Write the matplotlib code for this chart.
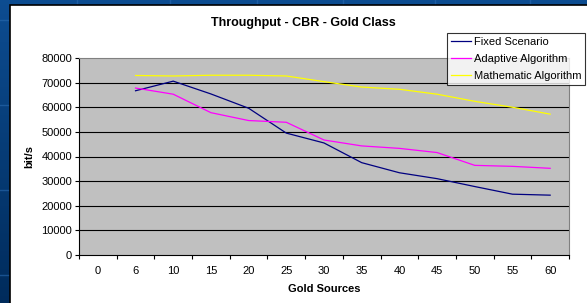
import numpy as np
import matplotlib.pyplot as plt
from matplotlib.patches import Rectangle

# Datos
categorias = ['0', '6', '10', '15', '20', '25', '30', '35', '40', '45', '50', '55', '60']
fixed = [np.nan, 66700, 70600, 65400, 59600, 49500, 45500, 37500, 33400, 31000, 27800, 24700, 24300]
adaptive = [np.nan, 67800, 65300, 57800, 54600, 53900, 46700, 44300, 43300, 41600, 36400, 36000, 35200]
mathematic = [np.nan, 72900, 72700, 73000, 73000, 72700, 70400, 68200, 67300, 65300, 62400, 60000, 57200]

plt.rcParams['font.family'] = ['Liberation Sans', 'DejaVu Sans']

fig = plt.figure(figsize=(5.87, 3.03), dpi=100)

# Fondo azul tipo diapositiva
bg = fig.add_axes([0, 0, 1, 1])
grad = np.linspace(0, 1, 256).reshape(-1, 1)
top = np.array([0.05, 0.30, 0.57])
bot = np.array([0.00, 0.17, 0.36])
img = top[None, None, :] * (1 - grad[:, :, None]) + bot[None, None, :] * grad[:, :, None]
bg.imshow(img, aspect='auto', extent=[0, 1, 0, 1], origin='upper')
for xv in [77, 170, 257, 343, 435, 530]:
    bg.axvline(xv / 587, color='#2a6ab0', lw=1, alpha=0.6)
for yv in [20, 105, 190, 275]:
    bg.axhline(1 - yv / 303, color='#2a6ab0', lw=1, alpha=0.6)
bg.set_xlim(0, 1)
bg.set_ylim(0, 1)
bg.axis('off')

# Área blanca del gráfico
bg.add_patch(Rectangle((10 / 587, -0.01), 1.0, (303 - 5) / 303 + 0.01,
                       facecolor='white', edgecolor='black', lw=1.2, zorder=3))

ax = fig.add_axes([79 / 587, 48 / 303, 490 / 587, 197 / 303])
ax.set_facecolor('#c0c0c0')
x = np.arange(len(categorias))

for yv in range(10000, 80000, 10000):
    ax.axhline(yv, color='black', lw=0.8, zorder=1)

ax.plot(x, fixed, color='#000080', lw=0.9, label='Fixed Scenario', zorder=3)
ax.plot(x, adaptive, color='#ff00ff', lw=0.9, label='Adaptive Algorithm', zorder=3)
ax.plot(x, mathematic, color='#ffff00', lw=0.9, label='Mathematic Algorithm', zorder=3)

ax.set_xlim(-0.5, len(categorias) - 0.5)
ax.set_ylim(0, 80000)
ax.set_yticks(range(0, 80001, 10000))
ax.tick_params(axis='y', labelsize=8, length=3, width=0.8, pad=2)

ax.set_xticks(np.arange(-0.5, len(categorias), 1.0))
ax.set_xticklabels([])
ax.set_xticks(x, minor=True)
ax.set_xticklabels(categorias, minor=True)
ax.tick_params(axis='x', which='major', length=3, width=0.8)
ax.tick_params(axis='x', which='minor', length=0, labelsize=8, pad=8)

for s in ['top', 'right']:
    ax.spines[s].set_color('#808080')
    ax.spines[s].set_linewidth(0.8)
for s in ['left', 'bottom']:
    ax.spines[s].set_color('black')
    ax.spines[s].set_linewidth(0.8)

ax.set_xlabel('Gold Sources', fontsize=8, fontweight='bold', labelpad=6)
ax.set_ylabel('bit/s', fontsize=8, fontweight='bold', labelpad=5)

fig.text(303 / 587, 1 - 23 / 303, 'Throughput - CBR - Gold Class', fontsize=9,
         fontweight='bold', ha='center', va='center')

leg = fig.legend(loc='upper right', bbox_to_anchor=(585 / 587, 1 - 33 / 303),
                 fontsize=8, frameon=True, fancybox=False, handlelength=1.8,
                 handletextpad=0.25, borderpad=0.35, labelspacing=0.62, borderaxespad=0)
leg.get_frame().set_edgecolor('black')
leg.get_frame().set_linewidth(0.8)

fig.savefig('out.png', dpi=100)
